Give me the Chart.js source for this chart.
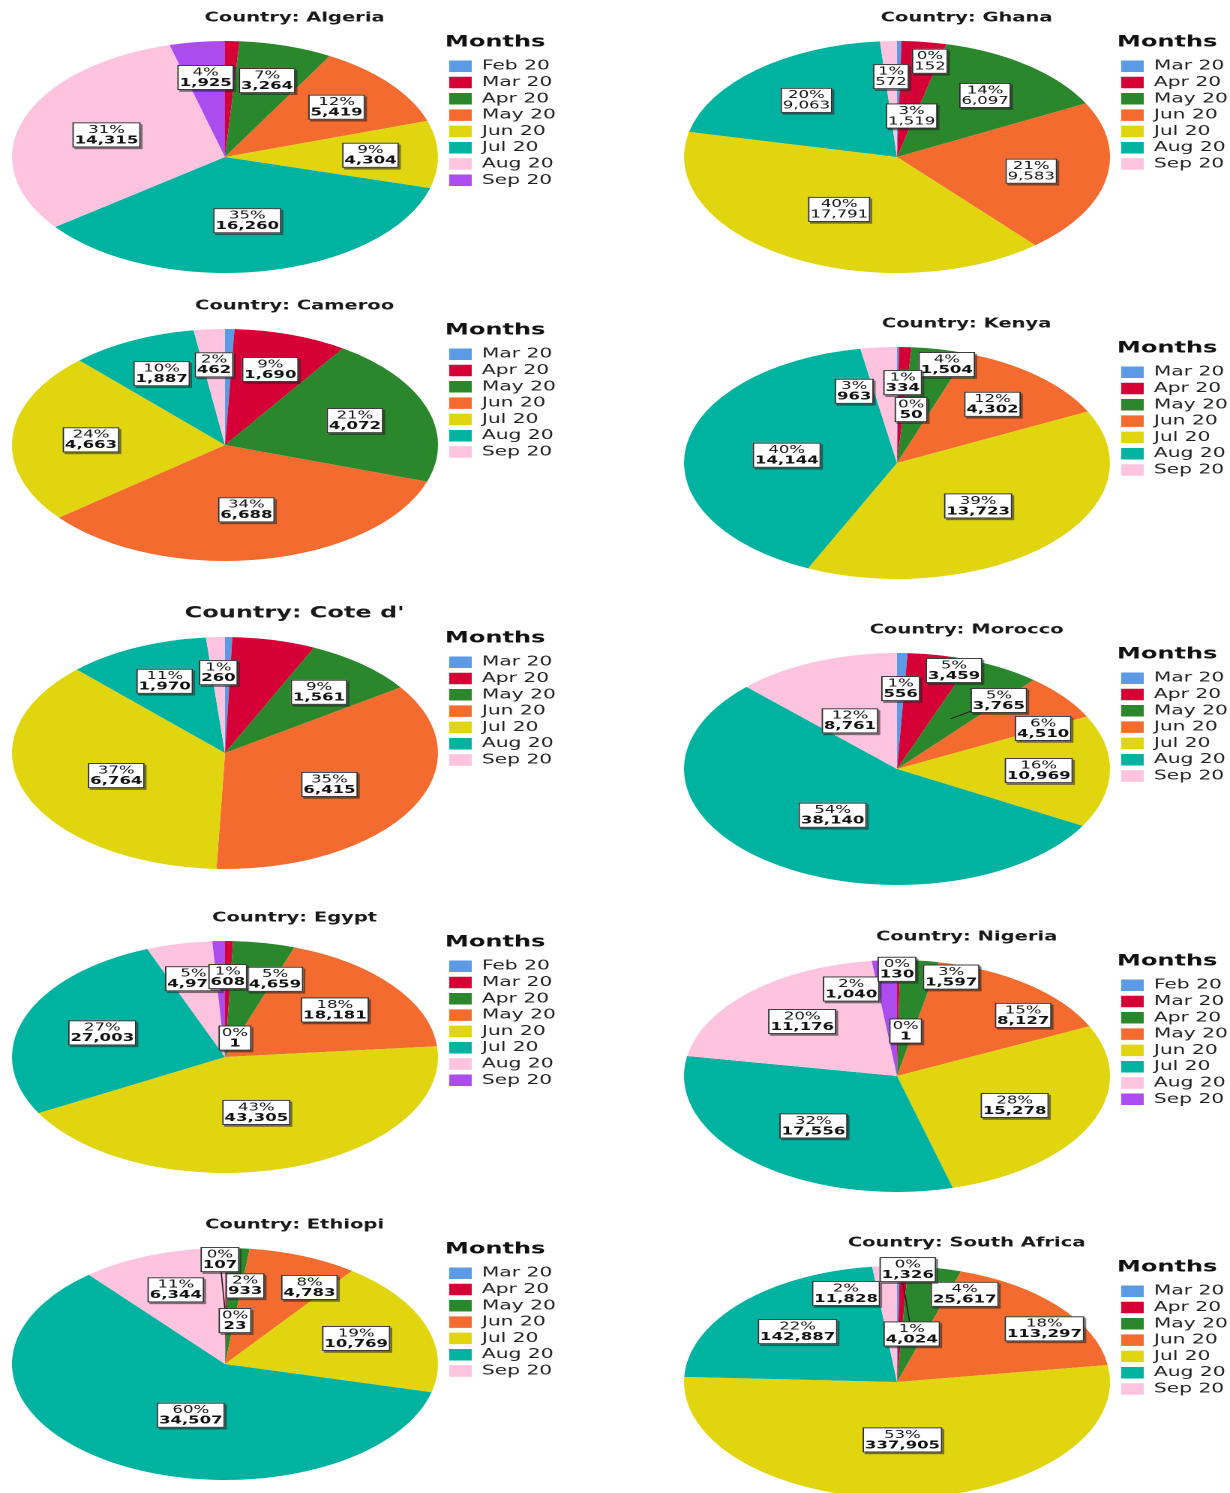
<!DOCTYPE html>
<html>
<head>
<meta charset="utf-8">
<script src="https://cdn.jsdelivr.net/npm/chart.js@4.4.1/dist/chart.umd.min.js"></script>
<style>
html,body{margin:0;padding:0;background:#fff;overflow:hidden;width:1230px;height:1493px;position:relative;}
.panel{position:absolute;width:404px;height:280px;transform:scaleX(1.5);transform-origin:0 0;}
.panel canvas{display:block;}
</style>
</head>
<body>
<script>
// ---------- data ----------
const monthsFebSep = ['Feb 20','Mar 20','Apr 20','May 20','Jun 20','Jul 20','Aug 20','Sep 20'];
const monthsMarSep = ['Mar 20','Apr 20','May 20','Jun 20','Jul 20','Aug 20','Sep 20'];

const algeriaValues     = [null, 500, 3264, 5419, 4304, 16260, 14315, 1925];
const ghanaValues       = [152, 1519, 6097, 9583, 17791, 9063, 572];
const cameroonValues    = [140, 1690, 4072, 6688, 4663, 1887, 462];
const kenyaValues       = [50, 334, 1504, 4302, 13723, 14144, 963];
const coteValues        = [100, 1150, 1561, 6415, 6764, 1970, 260];
const moroccoValues     = [556, 3459, 3765, 4510, 10969, 38140, 8761];
const egyptValues       = [1, 608, 4659, 18181, 43305, 27003, 4975, 950];
const nigeriaValues     = [1, 130, 1597, 8127, 15278, 17556, 11176, 1040];
const ethiopiaValues    = [23, 107, 933, 4783, 10769, 34507, 6344];
const southAfricaValues = [1326, 4024, 25617, 113297, 337905, 142887, 11828];

// ---------- style ----------
const palette = ['#5b9ae4','#d50036','#2a872c','#f36b2e','#e1d510','#00b3a0','#fec3df','#ab4cef'];
const PIE_CX = 150, PIE_CY = 157, PIE_R = 116, PIE_E = 142 / 116;

const panelDefs = [
  {title:'Country: Algeria', labels:monthsFebSep, values:algeriaValues, col:0, top:0, hidden:['Mar 20']},
  {title:'Country: Ghana', labels:monthsMarSep, values:ghanaValues, col:1, top:0, plain:true,
    place:{'Mar 20':[0.84,10.6],'Apr 20':[0.36,11]}},
  {title:'Country: Cameroo', labels:monthsMarSep, values:cameroonValues, col:0, top:288, hidden:['Mar 20']},
  {title:'Country: Kenya', labels:monthsMarSep, values:kenyaValues, col:1, top:306,
    place:{'Mar 20':[0.465,8.2],'May 20':[0.88,15.4],'Sep 20':[0.65,342]}},
  {title:"Country: Cote d'", labels:monthsMarSep, values:coteValues, col:0, top:596, titleSize:16, titlePad:7.6,
    hidden:['Mar 20','Apr 20']},
  {title:'Country: Morocco', labels:monthsMarSep, values:moroccoValues, col:1, top:612,
    place:{'Apr 20':[0.89,17.5],'May 20':[0.76,39,0.5],'Jun 20':[0.77,63],'Sep 20':[0.47,332]}},
  {title:'Country: Egypt', labels:monthsFebSep, values:egyptValues, col:0, top:900, hidden:['Sep 20'],
    place:{'Feb 20':[0.17,16],'Apr 20':[0.71,19.3]}},
  {title:'Country: Nigeria', labels:monthsFebSep, values:nigeriaValues, col:1, top:919,
    place:{'Feb 20':[0.39,6],'Mar 20':[0.92,0],'Apr 20':[0.89,16.6],'May 20':[0.79,48.6],'Sep 20':[0.78,344]}},
  {title:'Country: Ethiopi', labels:monthsMarSep, values:ethiopiaValues, col:0, top:1207,
    place:{'Mar 20':[0.377,7.2],'Apr 20':[0.9,358.5,0.4],'May 20':[0.68,8],'Jun 20':[0.77,31],'Aug 20':[0.47,200]}},
  {title:'Country: South Africa', labels:monthsMarSep, values:southAfricaValues, col:1, top:1225,
    place:{'Mar 20':[0.97,3],'Apr 20':[0.42,9.5,0.85],'May 20':[0.82,22.8],'Jun 20':[0.83,56.5],'Sep 20':[0.8,342.6]}}
];

Chart.defaults.font.family = '"DejaVu Sans", Verdana, sans-serif';
Chart.defaults.color = '#222';

function drawBox(ctx, x, y, t1, t2, bold) {
  const fs = 11;
  const f1 = fs + 'px "DejaVu Sans"';
  const f2 = (bold ? 'bold ' : '') + fs + 'px "DejaVu Sans"';
  ctx.font = f1; const w1 = ctx.measureText(t1).width;
  ctx.font = f2; const w2 = ctx.measureText(t2).width;
  const w = Math.max(w1, w2, 19) + 3, h = 25;
  const l = x - w / 2, t = y - h / 2;
  ctx.fillStyle = 'rgba(30,30,30,0.55)';
  ctx.fillRect(l + 1.3, t + 1.8, w, h);
  ctx.fillStyle = '#ffffff';
  ctx.fillRect(l, t, w, h);
  ctx.strokeStyle = '#2a2a2a';
  ctx.lineWidth = 0.9;
  ctx.strokeRect(l + 0.45, t + 0.45, w - 0.9, h - 0.9);
  ctx.fillStyle = '#111';
  ctx.textAlign = 'center';
  ctx.textBaseline = 'middle';
  ctx.font = f1; ctx.fillText(t1, x, y - 5);
  ctx.font = f2; ctx.fillText(t2, x, y + 5.5);
}

const ellipsePie = {
  id: 'ellipsePie',
  beforeDatasetsDraw(chart, args, o) {
    const a0 = chart.getDatasetMeta(0).data[0];
    const ctx = chart.ctx;
    ctx.save();
    ctx.translate(o.cx, o.cy);
    ctx.scale(o.e, 1);
    ctx.translate(-a0.x, -a0.y);
  },
  afterDatasetsDraw(chart, args, o) {
    const ctx = chart.ctx;
    ctx.restore();
    const meta = chart.getDatasetMeta(0);
    const vals = chart.data.datasets[0].data;
    const labels = chart.data.labels;
    const total = vals.reduce((s, v) => s + (v || 0), 0);
    const a0 = meta.data[0];
    const cx0 = a0.x, cy0 = a0.y;
    const map = (px, py) => [o.cx + (px - cx0) * o.e, o.cy + (py - cy0)];
    const items = [];
    meta.data.forEach((arc, i) => {
      const v = vals[i];
      if (v == null || (o.hidden || []).includes(labels[i])) return;
      const p = arc.getProps(['startAngle', 'endAngle', 'outerRadius'], true);
      const mid = (p.startAngle + p.endAngle) / 2;
      const half = (p.endAngle - p.startAngle) / 2;
      let f = half > 1e-6 ? 2 * Math.sin(half) / (3 * half) * 1.04 : 0.693;
      f = Math.min(Math.max(f, 0.5), 0.72);
      let th = mid;
      const ov = (o.place || {})[labels[i]];
      if (ov) { f = ov[0]; th = (ov[1] - 90) * Math.PI / 180; }
      const R = p.outerRadius;
      const pt = map(cx0 + Math.cos(th) * R * f, cy0 + Math.sin(th) * R * f);
      let lead = null;
      if (ov && ov[2]) lead = map(cx0 + Math.cos(mid) * R * ov[2], cy0 + Math.sin(mid) * R * ov[2]);
      items.push({i, x: pt[0], y: pt[1], v, lead});
    });
    ctx.save();
    ctx.strokeStyle = '#1a1a1a';
    ctx.lineWidth = 0.8;
    items.forEach(it => {
      if (!it.lead) return;
      ctx.beginPath(); ctx.moveTo(it.x, it.y); ctx.lineTo(it.lead[0], it.lead[1]); ctx.stroke();
    });
    for (let k = items.length - 1; k >= 0; k--) {
      const it = items[k];
      const pct = Math.round(it.v / total * 100) + '%';
      drawBox(ctx, it.x, it.y, pct, it.v.toLocaleString('en-US'), !o.plain);
    }
    ctx.restore();
  }
};

panelDefs.forEach(def => {
  const div = document.createElement('div');
  div.className = 'panel';
  div.style.left = (def.col * 672) + 'px';
  div.style.top = def.top + 'px';
  const cv = document.createElement('canvas');
  div.appendChild(cv);
  document.body.appendChild(div);
  new Chart(cv, {
    type: 'pie',
    data: {
      labels: def.labels,
      datasets: [{
        data: def.values,
        backgroundColor: palette.slice(0, def.labels.length),
        borderWidth: 0,
        clip: false
      }]
    },
    plugins: [ellipsePie],
    options: {
      responsive: true,
      maintainAspectRatio: false,
      animation: false,
      devicePixelRatio: 2,
      events: [],
      radius: PIE_R,
      layout: {padding: {left: 12.2, right: 23.4, top: 0, bottom: 0}},
      plugins: {
        tooltip: {enabled: false},
        title: {
          display: true,
          text: def.title,
          color: '#1a1a1a',
          font: {size: def.titleSize || 13, weight: 'bold', lineHeight: 1.2},
          padding: {top: def.titlePad || 10.2, bottom: 0}
        },
        legend: {
          position: 'right',
          align: 'start',
          title: {
            display: true,
            text: 'Months',
            position: 'start',
            color: '#111',
            font: {size: 16, weight: 'bold', lineHeight: 1.2},
            padding: {top: 34.2, bottom: 3.25}
          },
          labels: {
            boxWidth: 15,
            boxHeight: 11.5,
            padding: 2.8,
            color: '#222',
            font: {size: 13.5}
          }
        },
        ellipsePie: {
          cx: PIE_CX, cy: PIE_CY, e: PIE_E,
          hidden: def.hidden, place: def.place, plain: def.plain
        }
      }
    }
  });
});
</script>
</body>
</html>
